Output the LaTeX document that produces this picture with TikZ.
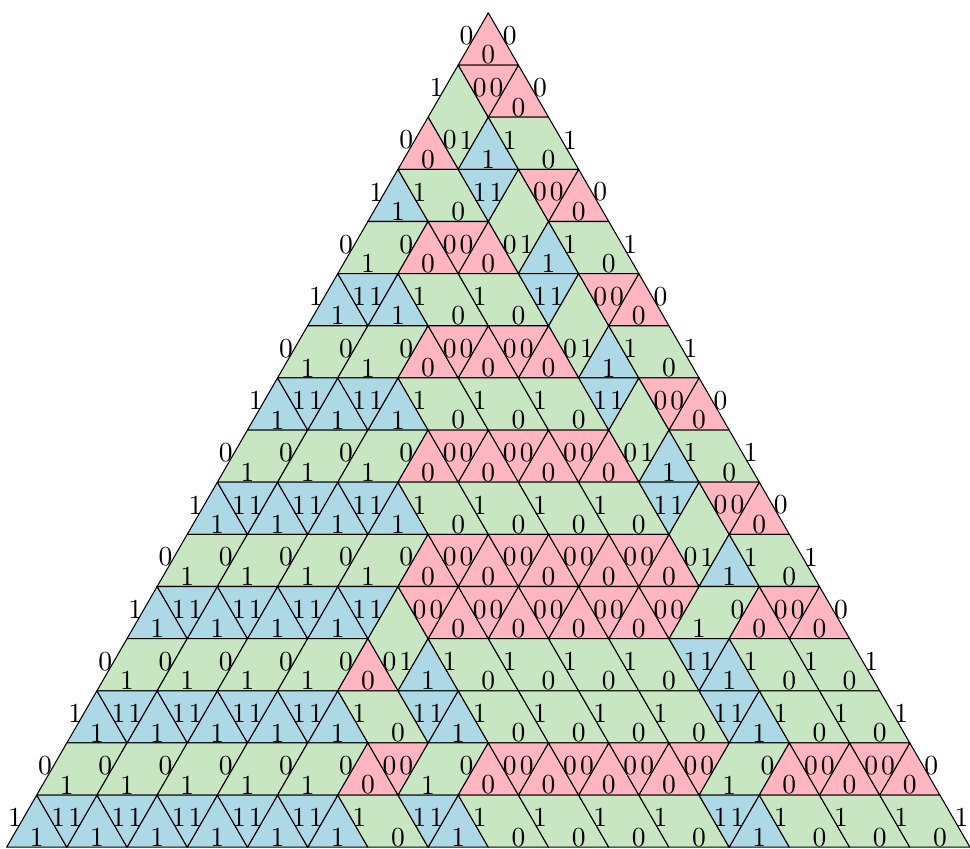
\documentclass[tikz,border=0pt]{standalone}
\usepackage{graphicx}
\definecolor{pz}{RGB}{255,182,193}
\definecolor{bz}{RGB}{173,216,230}
\definecolor{gz}{RGB}{200,230,194}
\tikzset{
  piece/.style={draw=black, line width=0.5pt, line join=round},
  zerotri/.style={piece, fill=pz},
  onetri/.style={piece, fill=bz},
  rhomb/.style={piece, fill=gz},
  lbl/.style={inner sep=0pt, font=\fontsize{10}{12}\selectfont},
}
\def\hh{0.8660254}
\newcommand\SetApex[2]{\pgfmathsetmacro\ax{-(#1-1)/2+(#2-1)}\pgfmathsetmacro\ay{-(#1-1)*\hh}}
% pieces
\newcommand\UpP[2]{\SetApex{#1}{#2}\filldraw[zerotri] (\ax,\ay) -- ++(-0.5,-\hh) -- ++(1,0) -- cycle;}
\newcommand\UpB[2]{\SetApex{#1}{#2}\filldraw[onetri] (\ax,\ay) -- ++(-0.5,-\hh) -- ++(1,0) -- cycle;}
\newcommand\UpV[2]{\SetApex{#1}{#2}\filldraw[rhomb] (\ax,\ay) -- ++(-0.5,-\hh) -- ++(0.5,-\hh) -- ++(0.5,\hh) -- cycle;}
\newcommand\UpL[2]{\SetApex{#1}{#2}\filldraw[rhomb] (\ax,\ay) -- ++(0.5,-\hh) -- ++(-1,0) -- ++(-0.5,\hh) -- cycle;}
\newcommand\UpR[2]{\SetApex{#1}{#2}\filldraw[rhomb] (\ax,\ay) -- ++(1,0) -- ++(-0.5,-\hh) -- ++(-1,0) -- cycle;}
\newcommand\DnP[2]{\SetApex{#1}{#2}\filldraw[zerotri] (\ax,\ay) -- ++(1,0) -- ++(-0.5,-\hh) -- cycle;}
\newcommand\DnB[2]{\SetApex{#1}{#2}\filldraw[onetri] (\ax,\ay) -- ++(1,0) -- ++(-0.5,-\hh) -- cycle;}
\newcommand\DnN[2]{}
% labels
\newcommand\LabL[3]{\node[lbl] (L#1-#2-a) at (\ax-0.362,\ay-0.377) {\scalebox{1.3}{#3}};}
\newcommand\LabR[3]{\node[lbl] (L#1-#2-b) at (\ax+0.358,\ay-0.377) {\scalebox{1.3}{#3}};}
\newcommand\LabB[3]{\node[lbl] (L#1-#2-c) at (\ax,\ay-0.700) {\scalebox{1.3}{#3}};}
\newcommand\LbP[2]{\SetApex{#1}{#2}\LabL{#1}{#2}{0}\LabR{#1}{#2}{0}\LabB{#1}{#2}{0}}
\newcommand\LbB[2]{\SetApex{#1}{#2}\LabL{#1}{#2}{1}\LabR{#1}{#2}{1}\LabB{#1}{#2}{1}}
\newcommand\LbV[2]{\SetApex{#1}{#2}\LabL{#1}{#2}{1}\LabR{#1}{#2}{0}}
\newcommand\LbL[2]{\SetApex{#1}{#2}\LabR{#1}{#2}{1}\LabB{#1}{#2}{0}}
\newcommand\LbR[2]{\SetApex{#1}{#2}\LabL{#1}{#2}{0}\LabB{#1}{#2}{1}}
\newcommand\PRow[3]{%
  \foreach[count=\j] \t in {#2} {\csname Up\t\endcsname{#1}{\j}}
  \foreach[count=\j] \t in {#3} {\csname Dn\t\endcsname{#1}{\j}}}
\newcommand\PLab[2]{\foreach[count=\j] \t in {#2} {\csname Lb\t\endcsname{#1}{\j}}}
\begin{document}
\begin{tikzpicture}
\useasboundingbox (-8.11,-13.886) rectangle (8.0,0.214);
% shapes
\UpP{1}{1}
\PRow{2}{V,P}{P}
\PRow{3}{P,B,L}{N,N}
\PRow{4}{B,L,V,P}{N,B,P}
\PRow{5}{R,P,P,B,L}{N,P,N,N}
\PRow{6}{B,B,L,L,V,P}{B,N,N,B,P}
\PRow{7}{R,R,P,P,P,B,L}{N,N,P,P,N,N}
\PRow{8}{B,B,B,L,L,L,V,P}{B,B,N,N,N,B,P}
\PRow{9}{R,R,R,P,P,P,P,B,L}{N,N,N,P,P,P,N,N}
\PRow{10}{B,B,B,B,L,L,L,L,V,P}{B,B,B,N,N,N,N,B,P}
\PRow{11}{R,R,R,R,P,P,P,P,P,B,L}{N,N,N,N,P,P,P,P,N,N}
\PRow{12}{B,B,B,B,V,P,P,P,P,R,P,P}{B,B,B,B,P,P,P,P,P,N,P}
\PRow{13}{R,R,R,R,P,B,L,L,L,L,B,L,L}{N,N,N,N,N,N,N,N,N,B,N,N}
\PRow{14}{B,B,B,B,B,L,B,L,L,L,L,B,L,L}{B,B,B,B,N,B,N,N,N,N,B,N,N}
\PRow{15}{R,R,R,R,R,P,R,P,P,P,P,R,P,P,P}{N,N,N,N,N,P,N,P,P,P,P,N,P,P}
\PRow{16}{B,B,B,B,B,B,L,B,L,L,L,L,B,L,L,L}{B,B,B,B,B,N,B,N,N,N,N,B,N,N,N}
% labels
\LbP{1}{1}
\PLab{2}{V,P}
\PLab{3}{P,B,L}
\PLab{4}{B,L,V,P}
\PLab{5}{R,P,P,B,L}
\PLab{6}{B,B,L,L,V,P}
\PLab{7}{R,R,P,P,P,B,L}
\PLab{8}{B,B,B,L,L,L,V,P}
\PLab{9}{R,R,R,P,P,P,P,B,L}
\PLab{10}{B,B,B,B,L,L,L,L,V,P}
\PLab{11}{R,R,R,R,P,P,P,P,P,B,L}
\PLab{12}{B,B,B,B,V,P,P,P,P,R,P,P}
\PLab{13}{R,R,R,R,P,B,L,L,L,L,B,L,L}
\PLab{14}{B,B,B,B,B,L,B,L,L,L,L,B,L,L}
\PLab{15}{R,R,R,R,R,P,R,P,P,P,P,R,P,P,P}
\PLab{16}{B,B,B,B,B,B,L,B,L,L,L,L,B,L,L,L}
\end{tikzpicture}
\end{document}
